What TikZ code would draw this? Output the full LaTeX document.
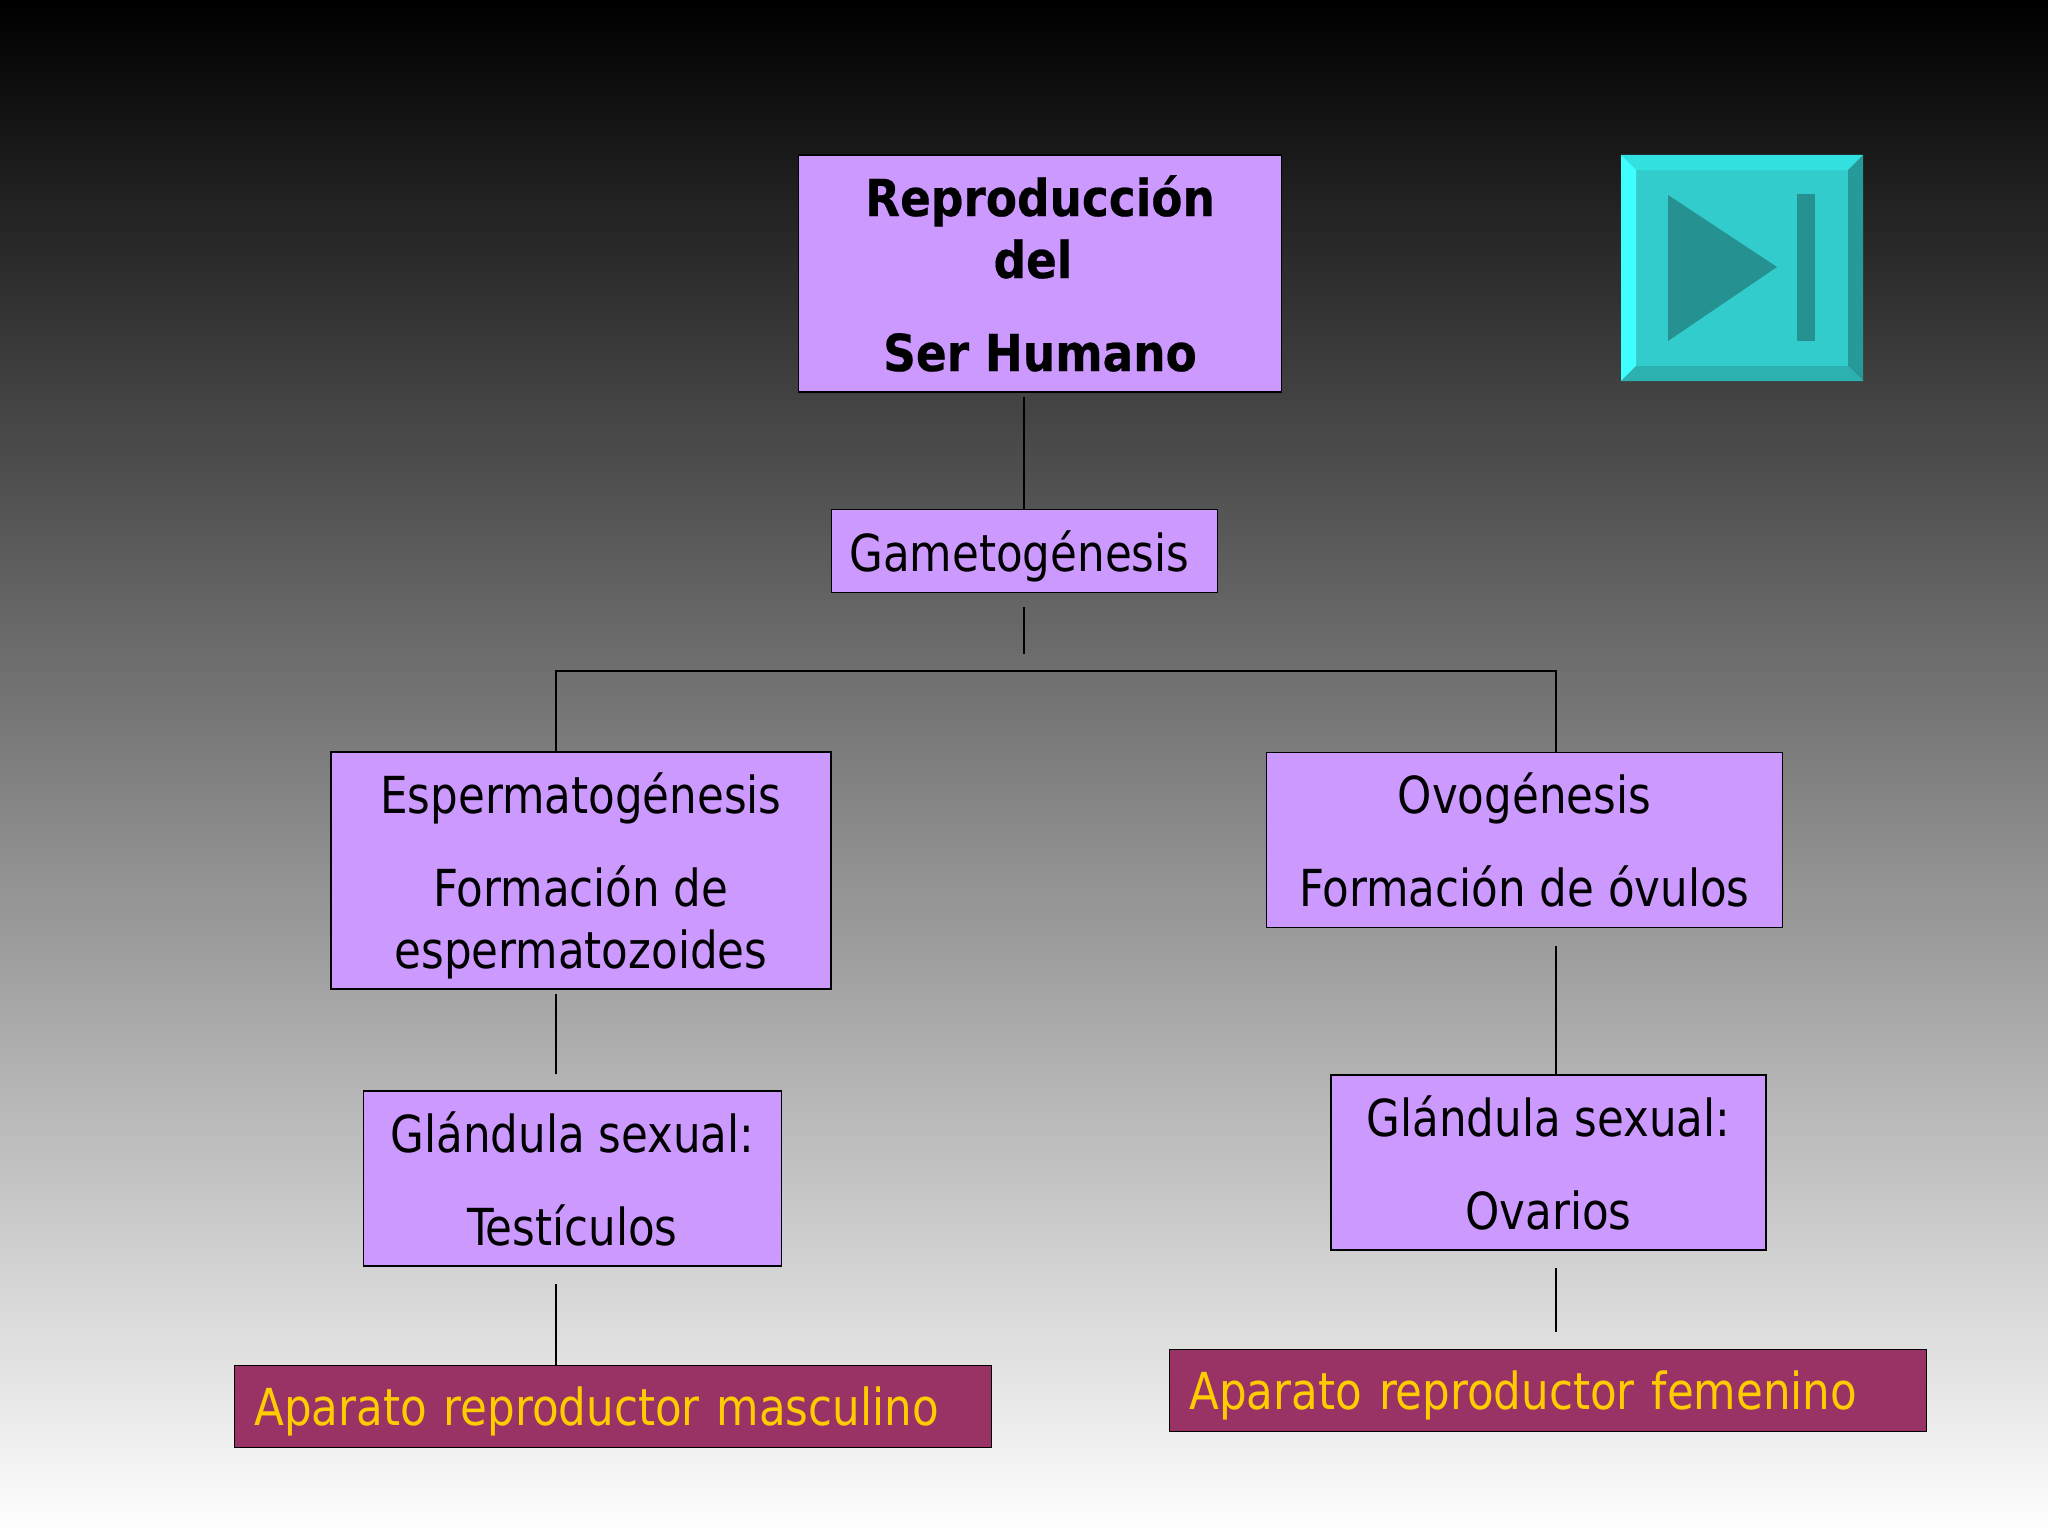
\documentclass[tikz,border=0pt]{standalone}
\usepackage{fontspec}
\setmainfont{DejaVu Sans Condensed}[FakeStretch=0.95]
\newfontfamily\titlefont{DejaVu Sans Condensed}[FakeStretch=0.99,BoldFeatures={FakeBold=0.4}]
\definecolor{lilac}{HTML}{CC99FF}
\definecolor{maroon}{HTML}{993366}
\definecolor{gold}{HTML}{FFCC00}
\definecolor{btnface}{HTML}{33CCCC}
\definecolor{btntop}{HTML}{33E0E0}
\definecolor{btnleft}{HTML}{40FFFF}
\definecolor{btnright}{HTML}{269999}
\definecolor{btnbottom}{HTML}{2DB0B0}
\definecolor{btndark}{HTML}{269191}
\tikzset{
  x=1pt,y=-1pt,
  lilacbox/.style={draw=black,line width=1.6pt,fill=lilac,inner sep=0pt,align=center,text=black,
    font=\fontsize{51}{62}\selectfont},
  maroonbox/.style={draw=black,line width=1.6pt,fill=maroon,inner sep=0pt,text=gold,text depth=0pt,
    minimum width=757pt,minimum height=82pt,text width=717pt,align=left,
    font=\fontsize{51}{62}\selectfont},
  link/.style={draw=black,line width=1.8pt}
}
\begin{document}
\begin{tikzpicture}
\useasboundingbox (0,0) rectangle (2048,1536);
\shade[top color=black,bottom color=white] (0,0) rectangle (2048,1536);

% boxes
\node[lilacbox,minimum width=483pt,minimum height=237pt] (title) at (1040,273.5)
  {\titlefont\bfseries Reproducción\\ \titlefont\bfseries del\hspace{14pt}\null\\[31pt] \titlefont\bfseries Ser Humano};
\node[lilacbox,minimum width=386pt,minimum height=83pt,text depth=0pt] (gameto) at (1024.5,551) {Gametogénesis\hspace{10pt}};
\node[lilacbox,minimum width=500pt,minimum height=237pt] (esper) at (581,870.5)
  {Espermatogénesis\\[31pt] Formación de\\ \smash{espermatozoides}};
\node[lilacbox,minimum width=516pt,minimum height=175pt] (ovo) at (1524.5,840)
  {Ovogénesis\\[31pt] Formación de óvulos};
\node[lilacbox,minimum width=418pt,minimum height=175pt] (glandm) at (572.5,1178.5)
  {Glándula sexual:\\[31pt] Testículos};
\node[lilacbox,minimum width=435pt,minimum height=175pt] (glandf) at (1548.5,1162.5)
  {Glándula sexual:\\[31pt] Ovarios};
\node[maroonbox] (apm) at (613,1406.5) {Aparato reproductor masculino};
\node[maroonbox] (apf) at (1548,1390.5) {Aparato reproductor femenino};

% connector end points
\coordinate (a1) at (1024,397);
\coordinate (b1) at (1024,607);
\coordinate (b2) at (1024,654);
\coordinate (busl) at (556,671);
\coordinate (busr) at (1556,671);
\coordinate (c1) at (556,994);
\coordinate (c2) at (556,1074);
\coordinate (d1) at (1556,946);
\coordinate (e1) at (556,1284);
\coordinate (f1) at (1556,1268);
\coordinate (f2) at (1556,1332);

% connectors
\draw[link] (a1) -- (a1 |- gameto.north);
\draw[link] (b1) -- (b2);
\draw[link] (busl |- esper.north) -- (busl) -- (busr) -- (busr |- ovo.north);
\draw[link] (c1) -- (c2);
\draw[link] (d1) -- (d1 |- glandf.north);
\draw[link] (e1) -- (e1 |- apm.north);
\draw[link] (f1) -- (f2);

% action button
\fill[btnface] (1621,155) rectangle (1863,381);
\fill[btntop] (1621,155) -- (1863,155) -- (1848,170) -- (1636,170) -- cycle;
\fill[btnleft] (1621,155) -- (1636,170) -- (1636,366) -- (1621,381) -- cycle;
\fill[btnright] (1863,155) -- (1863,381) -- (1848,366) -- (1848,170) -- cycle;
\fill[btnbottom] (1621,381) -- (1636,366) -- (1848,366) -- (1863,381) -- cycle;
\fill[btndark] (1668,195) -- (1777,267) -- (1668,341) -- cycle;
\fill[btndark] (1797,194) rectangle (1815,341);
\end{tikzpicture}
\end{document}
